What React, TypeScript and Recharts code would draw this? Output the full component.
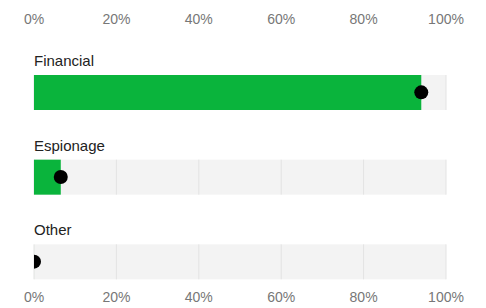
import { ComposedChart, Bar, Scatter, XAxis, YAxis, LabelList } from 'recharts';

// =============================================================================
// Data
// =============================================================================

const categories = ['Financial', 'Espionage', 'Other'];
const shares = [94, 6.5, 0];
const tickValues = [0, 20, 40, 60, 80, 100];

const data = categories.map((name, i) => ({ name, value: shares[i] }));

// =============================================================================
// Styling
// =============================================================================

const GREEN = '#0ab43c';
const BAND = '#f3f3f3';
const GRID = '#e3e3e3';
const FONT = '"Liberation Sans", Arial, Helvetica, sans-serif';

// grey band behind each bar, with the percent gridlines inside it
function BandBackground(props: any) {
  const { x, y, width, height, index } = props;
  return (
    <g>
      {index === 0 && (
        <defs>
          <clipPath id="plot-left-clip">
            <rect x={x} y={0} width={width + 40} height={400} />
          </clipPath>
        </defs>
      )}
      <rect x={x} y={y} width={width} height={height} fill={BAND} />
      {tickValues.map((t) => (
        <line
          key={t}
          x1={x + (width * t) / 100}
          x2={x + (width * t) / 100}
          y1={y}
          y2={y + height}
          stroke={GRID}
          strokeWidth={1}
        />
      ))}
    </g>
  );
}

function CategoryLabel(props: any) {
  const { x, y, value } = props;
  return (
    <text x={x} y={y - 9} fill="#222" fontSize={15} fontFamily={FONT}>
      {value}
    </text>
  );
}

function EndDot(props: any) {
  const { cx, cy } = props;
  return <circle cx={cx} cy={cy} r={7} fill="#000" clipPath="url(#plot-left-clip)" />;
}

// =============================================================================
// Chart
// =============================================================================

export default function App() {
  const tick = { fill: '#777', fontSize: 14, fontFamily: FONT };
  return (
    <div style={{ position: 'absolute', left: 0, top: 0, background: '#fff' }}>
      <ComposedChart
        width={486}
        height={308}
        data={data}
        layout="vertical"
        margin={{ top: 0, right: 40, bottom: 0, left: 34 }}
      >
        <XAxis
          xAxisId="top"
          orientation="top"
          type="number"
          domain={[0, 100]}
          ticks={tickValues}
          tickFormatter={(v) => `${v}%`}
          axisLine={false}
          tickLine={false}
          tickSize={0}
          tickMargin={6}
          height={30}
          tick={tick}
          interval={0}
        />
        <XAxis
          xAxisId="bottom"
          orientation="bottom"
          type="number"
          domain={[0, 100]}
          ticks={tickValues}
          tickFormatter={(v) => `${v}%`}
          axisLine={false}
          tickLine={false}
          tickSize={0}
          tickMargin={11}
          height={27}
          tick={tick}
          interval={0}
        />
        <YAxis
          type="category"
          dataKey="name"
          hide
          padding={{ top: 20, bottom: -23 }}
        />
        <Bar
          xAxisId="top"
          dataKey="value"
          fill={GREEN}
          barSize={35}
          minPointSize={0.01}
          background={<BandBackground />}
          isAnimationActive={false}
        >
          <LabelList dataKey="name" content={<CategoryLabel />} />
        </Bar>
        <Scatter
          xAxisId="bottom"
          dataKey="value"
          shape={<EndDot />}
          isAnimationActive={false}
        />
      </ComposedChart>
    </div>
  );
}
